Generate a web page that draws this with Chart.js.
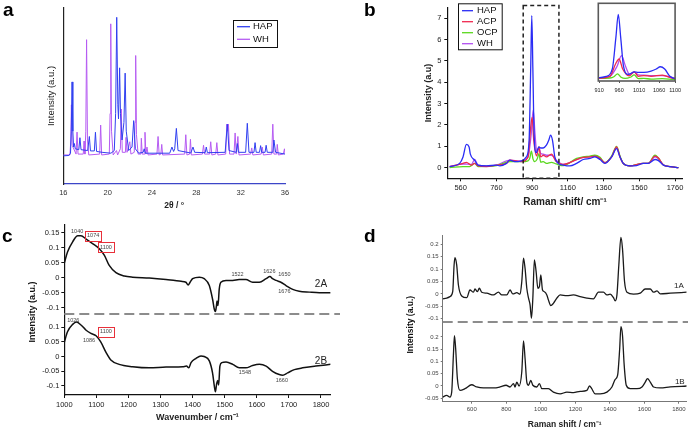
<!DOCTYPE html>
<html>
<head>
<meta charset="utf-8">
<script src="https://cdn.jsdelivr.net/npm/chart.js@4.4.1/dist/chart.umd.min.js"></script>
<style>
body{margin:0;background:#fff;}
#fig{position:relative;width:688px;height:430px;overflow:hidden;background:#fff;font-family:"Liberation Sans",Arial,sans-serif;}
canvas{position:absolute;}
.lt{position:absolute;font-weight:bold;font-size:19px;line-height:19px;color:#000;}
</style>
</head>
<body>
<div id="fig">
<canvas id="ca" width="300" height="215" style="left:0;top:0"></canvas>
<canvas id="cb" width="358" height="215" style="left:330px;top:0"></canvas>
<canvas id="cbi" width="95" height="100" style="left:590px;top:0"></canvas>
<canvas id="cc" width="340" height="215" style="left:0;top:215px"></canvas>
<canvas id="cd" width="348" height="215" style="left:340px;top:215px"></canvas>
<div class="lt" style="left:3px;top:0px">a</div>
<div class="lt" style="left:364px;top:0px">b</div>
<div class="lt" style="left:2px;top:226px">c</div>
<div class="lt" style="left:364px;top:226px">d</div>
</div>
<script>
// ---------------- data ----------------
// a: XRD, 2theta vs intensity (a.u.)
var xrdTicks = [16, 20, 24, 28, 32, 36];
var xrdHAP = [[16.0,16.0],[16.5,16.2],[16.65,17.5],[16.72,30],[16.79,58],[16.86,30],[16.93,21],[17.0,23],[17.08,20],[17.4,19.5],[17.5,26.3],[17.6,19.5],[18.2,19],[18.35,27],[18.45,18.8],[18.8,18.8],[18.9,29.4],[19.0,18.5],[19.5,18],[20.3,17.5],[20.6,19],[20.72,40],[20.82,94.7],[20.92,45],[20.98,37],[21.08,66],[21.16,40],[21.3,25],[21.47,35],[21.58,63],[21.68,30],[21.9,19],[22.2,21],[22.35,36],[22.5,20],[22.8,17.5],[23.2,18],[23.3,20],[23.4,17.5],[25.6,17.5],[25.8,21],[25.95,18.5],[26.05,20],[26.2,31.6],[26.35,19],[27.5,17.6],[27.7,21],[27.85,18],[28.8,17.8],[28.9,21],[29.0,17.8],[30.6,18],[30.8,34],[30.95,19],[31.6,18],[31.7,23],[31.8,18],[32.45,18],[32.6,34.5],[32.75,18],[33.2,18],[33.3,23.5],[33.4,18],[33.7,18],[33.8,21.8],[33.9,18],[34.2,18],[34.3,22],[34.4,18],[34.9,18],[35.0,25],[35.15,18],[36.0,17]];
var xrdWH = [[16.0,16.5],[16.6,16.5],[16.68,25],[16.73,45],[16.8,22],[17.15,17],[17.24,29.5],[17.33,17],[17.8,17],[17.87,24.4],[17.95,17],[18.03,30],[18.1,82],[18.18,25],[18.3,16.5],[19.28,17],[19.37,33.5],[19.46,16.5],[20.15,17],[20.22,40],[20.28,91],[20.35,30],[20.5,16.5],[20.8,19],[20.9,16.5],[21.15,20],[21.23,42.6],[21.32,18],[21.6,18],[21.66,26.5],[21.75,18],[22.0,24],[22.1,17],[22.4,18],[22.47,35],[22.53,73],[22.6,28],[22.75,17],[23.0,17],[23.04,26],[23.12,17],[23.3,17],[23.37,29.4],[23.45,17],[23.55,21],[23.65,16.5],[24.45,17],[24.55,27],[24.65,16.5],[24.8,17],[24.88,22.5],[24.96,16.5],[26.95,17],[27.05,28],[27.15,16.5],[27.4,17],[27.47,25.4],[27.55,16.5],[28.55,17],[28.65,22],[28.75,17],[29.2,17],[29.3,24],[29.4,16.5],[29.75,17],[29.85,23.5],[29.95,16.5],[30.65,17],[30.75,34],[30.82,30],[30.9,34],[31.0,17],[31.4,17],[31.5,29],[31.6,17],[31.75,27],[31.85,16.5],[32.9,17],[33.0,20.5],[33.1,16.5],[33.85,17],[33.95,21],[34.05,16.5],[34.8,17],[34.9,34],[35.0,17],[35.25,17],[35.3,22.5],[35.4,16.5],[35.85,17],[35.95,20],[36.0,17]];

// b: Raman spectra of the four phases
var ramanTicks = [560, 760, 960, 1160, 1360, 1560, 1760];
var ramanYTicks = [0, 1, 2, 3, 4, 5, 6, 7];
var insetTicks = [910, 960, 1010, 1060, 1100];
var ramanHAP = [[498,0.05],[554,0.2],[573,0.5],[592,1.09],[607,0.97],[614,0.63],[638,0.35],[657,0.12],[704,0.08],[760,0.12],[779,0.08],[816,0.2],[835,0.35],[863,0.28],[900,0.32],[928,0.5],[943,1.28],[952,4.66],[958,7.12],[964,4.66],[971,1.58],[983,0.7],[998,0.97],[1008,0.92],[1022,0.92],[1040,1.05],[1053,1.28],[1063,1.52],[1074,1.28],[1087,0.5],[1106,0.2],[1134,0.12],[1171,0.08],[1209,0.2],[1246,0.38],[1284,0.43],[1311,0.5],[1340,0.38],[1367,0.2],[1405,0.5],[1433,0.89],[1452,0.5],[1470,0.2],[1507,0.08],[1545,0.09],[1582,0.2],[1610,0.2],[1648,0.38],[1667,0.33],[1695,0.12],[1732,0.05],[1779,0]];
var ramanACP = [[498,0.05],[573,0.2],[592,0.25],[620,0.12],[638,0.2],[657,0.08],[704,0.05],[760,0.12],[816,0.2],[835,0.35],[900,0.28],[937,0.5],[952,1.9],[960,2.35],[969,1.28],[985,0.55],[998,0.97],[1008,0.5],[1022,0.58],[1040,0.5],[1068,0.63],[1095,0.28],[1134,0.15],[1209,0.38],[1246,0.48],[1284,0.5],[1311,0.54],[1340,0.43],[1367,0.23],[1405,0.5],[1433,0.97],[1452,0.5],[1470,0.2],[1507,0.08],[1582,0.2],[1610,0.2],[1648,0.54],[1667,0.45],[1695,0.12],[1732,0.05],[1779,0]];
var ramanOCP = [[498,0],[573,0.05],[610,0.05],[638,0.2],[657,0.05],[760,0.09],[835,0.28],[900,0.28],[937,0.32],[947,0.45],[956,0.77],[965,0.4],[975,0.28],[988,0.4],[998,0.65],[1008,0.25],[1022,0.28],[1040,0.2],[1068,0.25],[1095,0.17],[1134,0.09],[1209,0.43],[1246,0.5],[1284,0.54],[1311,0.58],[1340,0.48],[1367,0.23],[1405,0.54],[1433,1.0],[1452,0.54],[1470,0.2],[1507,0.08],[1582,0.2],[1610,0.2],[1648,0.58],[1667,0.45],[1695,0.12],[1732,0.05],[1779,0]];
var ramanWH = [[498,0.05],[573,0.17],[620,0.15],[638,0.38],[657,0.12],[704,0.08],[760,0.12],[835,0.35],[900,0.3],[937,0.5],[955,1.58],[966,2.7],[976,1.58],[986,0.74],[998,0.95],[1008,0.66],[1022,0.63],[1040,0.58],[1068,0.58],[1095,0.35],[1134,0.15],[1209,0.38],[1246,0.48],[1284,0.5],[1311,0.54],[1340,0.43],[1367,0.23],[1405,0.5],[1433,0.94],[1452,0.5],[1470,0.2],[1507,0.08],[1582,0.2],[1610,0.2],[1648,0.5],[1667,0.42],[1695,0.12],[1732,0.05],[1779,0]];

// c: difference spectra 2A / 2B
var cXTicks = [1000, 1100, 1200, 1300, 1400, 1500, 1600, 1700, 1800];
var cTopTicks = [-0.1, -0.05, 0, 0.05, 0.1, 0.15];
var cBotTicks = [-0.1, -0.05, 0, 0.05, 0.1];
var c2A = [[1000,0.049],[1010,0.086],[1026,0.12],[1042,0.14],[1052,0.14],[1068,0.129],[1088,0.114],[1109,0.097],[1125,0.075],[1140,0.041],[1161,0.017],[1187,0.006],[1213,0.002],[1265,-0.001],[1317,-0.006],[1364,-0.012],[1379,-0.015],[1386,-0.024],[1392,-0.015],[1400,-0.003],[1421,0.002],[1436,-0.003],[1452,-0.026],[1462,-0.071],[1468,-0.107],[1471,-0.113],[1474,-0.095],[1476,-0.078],[1479,-0.093],[1483,-0.037],[1488,-0.015],[1504,-0.009],[1525,-0.009],[1545,-0.006],[1566,-0.006],[1587,-0.015],[1608,-0.015],[1629,-0.003],[1641,0.004],[1649,-0.003],[1660,-0.009],[1675,-0.015],[1691,-0.026],[1712,-0.039],[1732,-0.045],[1764,-0.048],[1795,-0.05],[1830,-0.05]];
var c2B = [[1000,0.049],[1010,0.085],[1026,0.11],[1038,0.118],[1052,0.108],[1068,0.09],[1083,0.079],[1099,0.071],[1114,0.049],[1130,0.014],[1145,-0.012],[1171,-0.027],[1213,-0.035],[1265,-0.039],[1317,-0.036],[1369,-0.035],[1381,-0.033],[1388,-0.039],[1395,-0.021],[1410,-0.007],[1426,0.002],[1436,0],[1452,-0.015],[1462,-0.056],[1468,-0.104],[1471,-0.121],[1475,-0.092],[1478,-0.082],[1481,-0.098],[1485,-0.033],[1491,-0.021],[1504,-0.019],[1525,-0.027],[1545,-0.039],[1566,-0.039],[1587,-0.031],[1608,-0.027],[1629,-0.033],[1649,-0.051],[1670,-0.062],[1681,-0.064],[1696,-0.056],[1717,-0.045],[1743,-0.039],[1784,-0.033],[1830,-0.027]];
var cNotes = [["1040",1040,0.155,"yTop",false],["1074",1090,0.141,"yTop",true],["1100",1130,0.102,"yTop",true],["1522",1540,0.01,"yTop",false],["1626",1639,0.022,"yTop",false],["1650",1686,0.011,"yTop",false],["1676",1686,-0.046,"yTop",false],["1026",1028,0.125,"yBot",false],["1086",1077,0.056,"yBot",false],["1100",1130,0.086,"yBot",true],["1548",1563,-0.055,"yBot",false],["1660",1678,-0.081,"yBot",false]];
var cTags = [["2A",1800,-0.023,"yTop"],["2B",1800,-0.017,"yBot"]];

// d: difference spectra 1A / 1B
var dTicks = [600, 800, 1000, 1200, 1400, 1600, 1800];
var dTopTicks = [-0.1, -0.05, 0, 0.05, 0.1, 0.15, 0.2];
var dBotTicks = [-0.05, 0, 0.05, 0.1, 0.15, 0.2];
var d1A = [[432,-0.02],[455,-0.017],[474,-0.011],[490,0.009],[498,0.117],[503,0.146],[513,0.117],[523,0.036],[542,-0.008],[571,-0.015],[590,0.016],[610,0.007],[619,0.02],[633,0.009],[644,0.023],[658,0.007],[687,0.003],[726,-0.004],[755,0.007],[774,-0.004],[803,-0.004],[822,0.016],[838,0],[861,0.005],[880,-0.001],[890,0.05],[900,0.144],[909,0.103],[919,0.023],[929,-0.017],[938,-0.044],[946,-0.098],[954,-0.017],[963,0.137],[973,0.09],[983,0.023],[992,0.03],[1000,0.077],[1010,0.016],[1021,0.009],[1035,-0.004],[1044,-0.024],[1058,-0.047],[1073,-0.038],[1093,-0.017],[1112,-0.004],[1151,-0.007],[1189,-0.004],[1228,-0.011],[1267,-0.017],[1305,-0.02],[1334,0.007],[1363,0.007],[1383,-0.004],[1402,-0.001],[1421,-0.015],[1431,-0.028],[1441,-0.004],[1452,0.117],[1464,0.228],[1473,0.184],[1485,0.05],[1499,0.007],[1537,-0.001],[1576,0.003],[1605,0.02],[1634,0.02],[1653,0.007],[1673,0.012],[1692,0],[1750,0.003],[1845,0.007]];
var d1B = [[432,-0.045],[455,-0.038],[474,-0.045],[484,-0.025],[494,0.126],[500,0.205],[507,0.153],[517,0.03],[532,-0.018],[561,-0.011],[600,0.005],[629,-0.004],[668,-0.008],[726,-0.008],[764,-0.004],[799,0.003],[822,-0.004],[842,0.01],[851,-0.004],[861,0.016],[874,0],[890,0.058],[900,0.184],[909,0.112],[919,0.016],[929,0.003],[942,0.023],[954,0.003],[977,-0.004],[992,0.01],[1006,-0.011],[1044,-0.011],[1073,-0.025],[1112,-0.032],[1151,-0.025],[1189,-0.027],[1228,-0.022],[1267,-0.018],[1282,0],[1295,-0.011],[1315,-0.032],[1344,-0.032],[1383,-0.025],[1412,-0.004],[1431,0.027],[1445,0.044],[1457,0.153],[1464,0.242],[1473,0.208],[1483,0.085],[1495,0.003],[1518,-0.011],[1557,-0.011],[1586,-0.004],[1605,0.016],[1618,0.03],[1634,0.016],[1653,-0.004],[1692,-0.008],[1750,-0.004],[1845,0]];
var dTags = [["1A",1800,0.032,"yTop"],["1B",1805,0.019,"yBot"]];

// ---------------- setup ----------------
var FONT = '"Liberation Sans", Arial, sans-serif';
Chart.defaults.font.family = FONT;
Chart.defaults.color = '#222';
Chart.defaults.animation = false;
Chart.defaults.responsive = false;
Chart.defaults.devicePixelRatio = 1;
Chart.defaults.plugins.legend.display = false;
Chart.defaults.plugins.tooltip.enabled = false;
Chart.defaults.elements.point.radius = 0;

function pts(arr) { return arr.map(function (p) { return {x: p[0], y: p[1]}; }); }
function fixW(w) { return function (s) { s.width = w; }; }
function fixH(h) { return function (s) { s.height = h; }; }
function setTicks(vals) { return function (s) { s.ticks = vals.map(function (v) { return {value: v}; }); }; }
function plain(v) { return String(Math.round(v * 1000) / 1000); }

var boxLegend = {
  id: 'boxLegend',
  afterDatasetsDraw: function (chart, args, o) {
    var ctx = chart.ctx;
    ctx.save();
    ctx.fillStyle = '#fff';
    ctx.fillRect(o.x, o.y, o.w, o.h);
    ctx.strokeStyle = '#111'; ctx.lineWidth = 1;
    ctx.strokeRect(o.x + 0.5, o.y + 0.5, o.w, o.h);
    ctx.font = o.size + 'px ' + FONT;
    ctx.textBaseline = 'middle'; ctx.textAlign = 'left';
    chart.data.datasets.forEach(function (ds, i) {
      var yy = o.y + o.first + i * o.row;
      ctx.strokeStyle = ds.borderColor; ctx.lineWidth = 1.3;
      ctx.beginPath(); ctx.moveTo(o.x + o.l0, yy); ctx.lineTo(o.x + o.l1, yy); ctx.stroke();
      ctx.fillStyle = '#111';
      ctx.fillText(ds.label, o.x + o.tx, yy);
    });
    ctx.restore();
  }
};

var dashBox = {
  id: 'dashBox',
  afterDatasetsDraw: function (chart, args, o) {
    var ctx = chart.ctx, xs = chart.scales.x, ys = chart.scales.y;
    var x0 = xs.getPixelForValue(o.x0), x1 = xs.getPixelForValue(o.x1);
    var y0 = ys.getPixelForValue(o.y1), y1 = ys.getPixelForValue(o.y0);
    ctx.save();
    ctx.setLineDash([4, 3]); ctx.lineWidth = 1.5; ctx.strokeStyle = '#222';
    ctx.strokeRect(x0, y0, x1 - x0, y1 - y0);
    ctx.restore();
  }
};

var insetFrame = {
  id: 'insetFrame',
  beforeDraw: function (chart) {
    var a = chart.chartArea, ctx = chart.ctx;
    ctx.save(); ctx.fillStyle = '#fff';
    ctx.fillRect(a.left, a.top, a.right - a.left, a.bottom - a.top);
    ctx.restore();
  },
  afterDraw: function (chart) {
    var a = chart.chartArea, ctx = chart.ctx;
    ctx.save(); ctx.strokeStyle = '#5a5a5a'; ctx.lineWidth = 1.6;
    ctx.strokeRect(a.left, a.top, a.right - a.left, a.bottom - a.top);
    ctx.restore();
  }
};

var divider = {
  id: 'divider',
  afterDatasetsDraw: function (chart, args, o) {
    var ctx = chart.ctx, y = Math.round(chart.scales.yTop.bottom);
    ctx.save();
    ctx.setLineDash([10, 5]); ctx.lineWidth = 2; ctx.strokeStyle = '#8c8c8c';
    ctx.beginPath(); ctx.moveTo(chart.chartArea.left, y); ctx.lineTo(chart.width, y); ctx.stroke();
    ctx.restore();
  }
};

var notes = {
  id: 'notes',
  afterDatasetsDraw: function (chart, args, o) {
    var ctx = chart.ctx, xs = chart.scales.x;
    ctx.save();
    ctx.textAlign = 'center'; ctx.textBaseline = 'middle';
    (o.small || []).forEach(function (n) {
      var px = xs.getPixelForValue(n[1]), py = chart.scales[n[3]].getPixelForValue(n[2]);
      ctx.font = o.smallSize + 'px ' + FONT;
      ctx.fillStyle = '#444';
      ctx.fillText(n[0], px, py);
      if (n[4]) {
        var w = ctx.measureText(n[0]).width;
        ctx.strokeStyle = '#e8303a'; ctx.lineWidth = 1;
        ctx.strokeRect(Math.round(px - w / 2 - 2) + 0.5, Math.round(py - o.smallSize / 2 - 2) + 0.5, Math.round(w + 4), Math.round(o.smallSize + 4));
      }
    });
    (o.big || []).forEach(function (n) {
      var px = xs.getPixelForValue(n[1]), py = chart.scales[n[3]].getPixelForValue(n[2]);
      ctx.font = o.bigSize + 'px ' + FONT;
      ctx.fillStyle = '#222';
      ctx.fillText(n[0], px, py);
    });
    ctx.restore();
  }
};

var sideTitle = {
  id: 'sideTitle',
  afterDraw: function (chart, args, o) {
    var ctx = chart.ctx, a = chart.chartArea;
    ctx.save();
    ctx.translate(a.left - o.dx, (a.top + a.bottom) / 2 + o.dy);
    ctx.rotate(-Math.PI / 2);
    ctx.font = 'bold ' + o.size + 'px ' + FONT;
    ctx.fillStyle = '#111'; ctx.textAlign = 'center'; ctx.textBaseline = 'middle';
    ctx.fillText(o.text, 0, 0);
    ctx.restore();
  }
};

function tickGrid(len, col) {
  return {display: true, drawOnChartArea: false, drawTicks: true, tickLength: len, color: col};
}

// ---------------- a ----------------
new Chart(document.getElementById('ca'), {
  type: 'line',
  data: {datasets: [
    {label: 'HAP', data: pts(xrdHAP), borderColor: '#3040f0', borderWidth: 1, tension: 0},
    {label: 'WH', data: pts(xrdWH), borderColor: '#b65cf2', borderWidth: 1, tension: 0}
  ]},
  options: {
    layout: {padding: {top: 8, right: 15, left: 0, bottom: 0}},
    scales: {
      x: {type: 'linear', min: 16, max: 36, afterBuildTicks: setTicks(xrdTicks), afterFit: fixH(31),
          grid: {display: false, drawTicks: false}, border: {display: true, color: '#3c46c8', width: 1.2},
          ticks: {font: {size: 7.5}, color: '#333', padding: 4, maxRotation: 0, autoSkip: false, callback: plain},
          title: {display: true, text: '2θ / °', font: {size: 8.5, weight: 'bold'}, padding: {top: 0, bottom: 4}}},
      y: {type: 'linear', min: 0, max: 100, afterFit: fixW(63.3),
          grid: {display: false, drawTicks: false}, border: {display: true, color: '#222', width: 1.2},
          ticks: {display: false},
          title: {display: true, text: 'Intensity (a.u.)', font: {size: 9.5}, padding: {top: 46, bottom: 0}}}
    },
    plugins: {boxLegend: {x: 233, y: 20, w: 44, h: 27, first: 6.7, row: 12.6, l0: 4, l1: 17, tx: 20, size: 9.5}}
  },
  plugins: [boxLegend]
});

// ---------------- b ----------------
var bSets = [
  {label: 'HAP', data: pts(ramanHAP), borderColor: '#2a2cf5'},
  {label: 'ACP', data: pts(ramanACP), borderColor: '#f0284e'},
  {label: 'OCP', data: pts(ramanOCP), borderColor: '#5ad81e'},
  {label: 'WH', data: pts(ramanWH), borderColor: '#b24ff0'}
];
function bData() {
  return bSets.map(function (d) {
    return {label: d.label, data: d.data, borderColor: d.borderColor, borderWidth: 1.3, cubicInterpolationMode: 'monotone'};
  });
}
new Chart(document.getElementById('cb'), {
  type: 'line',
  data: {datasets: bData()},
  options: {
    layout: {padding: {top: 5, right: 5.3, left: 0, bottom: 0}},
    scales: {
      x: {type: 'linear', min: 485, max: 1803, afterBuildTicks: setTicks(ramanTicks), afterFit: fixH(36.7),
          grid: tickGrid(3, '#111'), border: {display: true, color: '#111', width: 1.2},
          ticks: {font: {size: 7.5}, color: '#222', padding: 2, maxRotation: 0, autoSkip: false, callback: plain},
          title: {display: true, text: 'Raman shift/ cm⁻¹', font: {size: 10, weight: 'bold'}, padding: {top: 0, bottom: 7}}},
      y: {type: 'linear', min: -0.5, max: 7.5, afterBuildTicks: setTicks(ramanYTicks), afterFit: fixW(117.3),
          grid: tickGrid(3, '#111'), border: {display: true, color: '#111', width: 1.2},
          ticks: {font: {size: 7.5}, color: '#222', padding: 3, autoSkip: false, callback: plain},
          title: {display: true, text: 'Intensity (a.u)', font: {size: 9, weight: 'bold'}, padding: {top: 93.6, bottom: 0}}}
    },
    plugins: {
      boxLegend: {x: 128, y: 3.3, w: 43.7, h: 46, first: 7.4, row: 11, l0: 4, l1: 15, tx: 19, size: 9.5},
      dashBox: {x0: 910, x1: 1110, y0: -0.5, y1: 7.59}
    }
  },
  plugins: [dashBox, boxLegend]
});

// inset of b
new Chart(document.getElementById('cbi'), {
  type: 'line',
  data: {datasets: bData()},
  options: {
    layout: {padding: {top: 3.3, right: 9, left: 8.3, bottom: 0}},
    scales: {
      x: {type: 'linear', min: 908, max: 1100, afterBuildTicks: setTicks(insetTicks), afterFit: fixH(19),
          grid: tickGrid(2, '#555'), border: {display: false},
          ticks: {font: {size: 5.5}, color: '#222', padding: 4, maxRotation: 0, autoSkip: false, callback: plain}},
      y: {type: 'linear', min: 0, max: 8.3, display: false}
    }
  },
  plugins: [insetFrame]
});

// ---------------- c ----------------
new Chart(document.getElementById('cc'), {
  type: 'line',
  data: {datasets: [
    {label: '2A', data: pts(c2A), yAxisID: 'yTop', borderColor: '#111', borderWidth: 1.5, cubicInterpolationMode: 'monotone'},
    {label: '2B', data: pts(c2B), yAxisID: 'yBot', borderColor: '#111', borderWidth: 1.5, cubicInterpolationMode: 'monotone'}
  ]},
  options: {
    layout: {padding: {top: 10, right: 9.4, left: 0, bottom: 0}},
    scales: {
      x: {type: 'linear', min: 1000, max: 1830, afterBuildTicks: setTicks(cXTicks), afterFit: fixH(35),
          grid: tickGrid(3, '#111'), border: {display: true, color: '#111', width: 1.2},
          ticks: {font: {size: 7.5}, color: '#222', padding: 2, maxRotation: 0, autoSkip: false, callback: plain},
          title: {display: true, text: 'Wavenumber / cm⁻¹', font: {size: 9, weight: 'bold'}, padding: {top: 0, bottom: 7}}},
      yBot: {type: 'linear', position: 'left', stack: 'c', stackWeight: 81, min: -0.132, max: 0.1456,
          afterBuildTicks: setTicks(cBotTicks), afterFit: fixW(64.3),
          grid: tickGrid(3, '#111'), border: {display: true, color: '#111', width: 1.2},
          ticks: {font: {size: 7.5}, color: '#222', padding: 2, autoSkip: false, callback: plain}},
      yTop: {type: 'linear', position: 'left', stack: 'c', stackWeight: 89, min: -0.121, max: 0.176,
          afterBuildTicks: setTicks(cTopTicks), afterFit: fixW(64.3),
          grid: tickGrid(3, '#111'), border: {display: true, color: '#111', width: 1.2},
          ticks: {font: {size: 7.5}, color: '#222', padding: 2, autoSkip: false, callback: plain}}
    },
    plugins: {
      notes: {small: cNotes, smallSize: 5.5, big: cTags, bigSize: 10},
      sideTitle: {text: 'Intensity (a.u.)', dx: 31.3, dy: 2, size: 9}
    }
  },
  plugins: [divider, notes, sideTitle]
});

// ---------------- d ----------------
new Chart(document.getElementById('cd'), {
  type: 'line',
  data: {datasets: [
    {label: '1A', data: pts(d1A), yAxisID: 'yTop', borderColor: '#1a1a1a', borderWidth: 1.3, cubicInterpolationMode: 'monotone'},
    {label: '1B', data: pts(d1B), yAxisID: 'yBot', borderColor: '#1a1a1a', borderWidth: 1.3, cubicInterpolationMode: 'monotone'}
  ]},
  options: {
    layout: {padding: {top: 20.7, right: 1.3, left: 0, bottom: 0}},
    scales: {
      x: {type: 'linear', min: 432, max: 1845, afterBuildTicks: setTicks(dTicks), afterFit: fixH(28.3),
          grid: tickGrid(2, '#777'), border: {display: true, color: '#777', width: 1},
          ticks: {font: {size: 6}, color: '#444', padding: 2, maxRotation: 0, autoSkip: false, callback: plain},
          title: {display: true, text: 'Raman shift / cm⁻¹', font: {size: 8.5, weight: 'bold'}, padding: {top: 0, bottom: 0}}},
      yBot: {type: 'linear', position: 'left', stack: 'd', stackWeight: 80, min: -0.064, max: 0.262,
          afterBuildTicks: setTicks(dBotTicks), afterFit: fixW(102.7),
          grid: tickGrid(2, '#777'), border: {display: true, color: '#777', width: 1},
          ticks: {font: {size: 6}, color: '#444', padding: 2, autoSkip: false, callback: plain}},
      yTop: {type: 'linear', position: 'left', stack: 'd', stackWeight: 86, min: -0.112, max: 0.235,
          afterBuildTicks: setTicks(dTopTicks), afterFit: fixW(102.7),
          grid: tickGrid(2, '#777'), border: {display: true, color: '#777', width: 1},
          ticks: {font: {size: 6}, color: '#444', padding: 2, autoSkip: false, callback: plain}}
    },
    plugins: {
      notes: {big: dTags, bigSize: 8},
      sideTitle: {text: 'Intensity (a.u.)', dx: 31.7, dy: 6, size: 8.5}
    }
  },
  plugins: [divider, notes, sideTitle]
});
</script>
</body>
</html>
